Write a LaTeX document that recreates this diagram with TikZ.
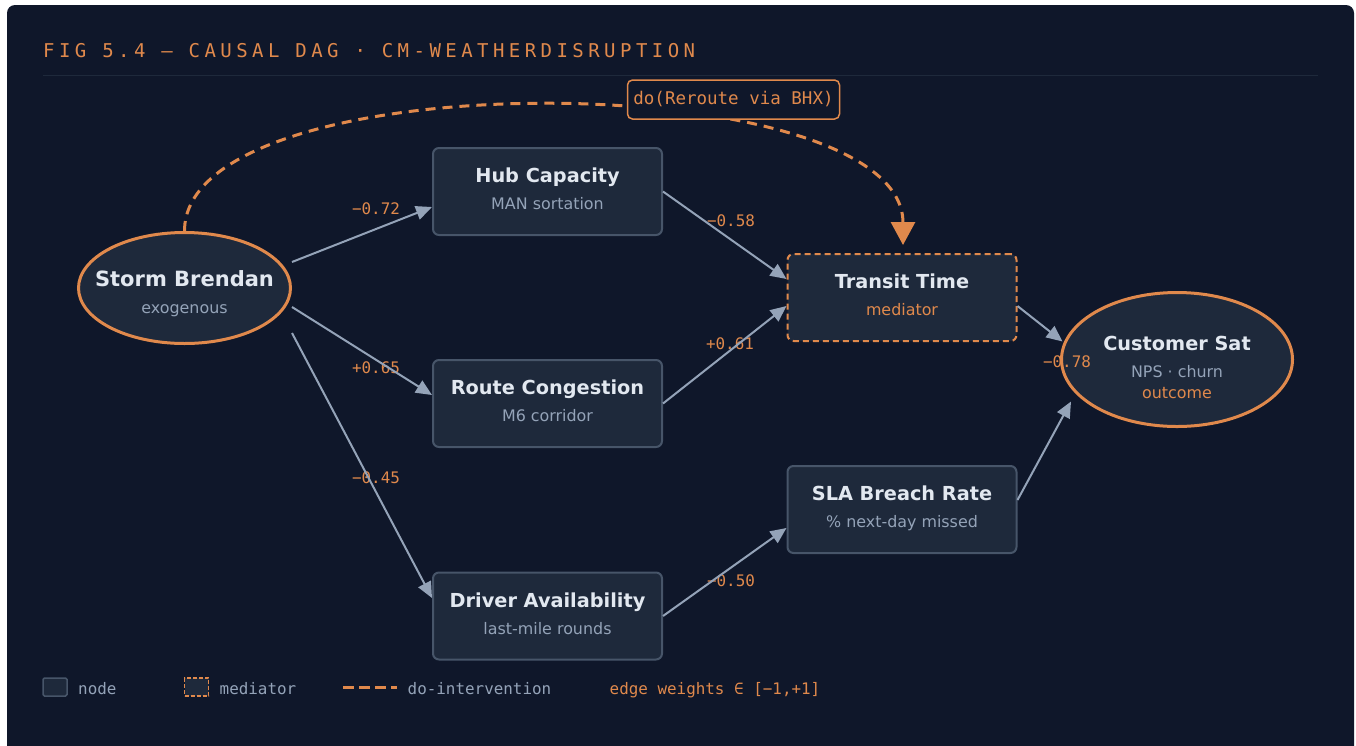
\documentclass[tikz,border=0pt]{standalone}
\usepackage{fontspec}
\setmainfont{DejaVu Sans}
\setmonofont{DejaVu Sans Mono}
\usetikzlibrary{arrows.meta,shapes.geometric,calc}

\definecolor{panelbg}{HTML}{0F172A}
\definecolor{nodefill}{HTML}{1E293B}
\definecolor{nodeline}{HTML}{475569}
\definecolor{edgegray}{HTML}{94A3B8}
\definecolor{accent}{HTML}{E0894C}
\definecolor{titlewhite}{HTML}{E2E8F0}
\definecolor{rulecol}{HTML}{1E293B}

\tikzset{
  boxnode/.style={rectangle, draw=nodeline, fill=nodefill, line width=2pt,
    rounded corners=6pt, minimum width=229pt, minimum height=87pt, inner sep=0pt},
  medbox/.style={boxnode, draw=accent, dash pattern=on 6pt off 4pt},
  ovalnode/.style={ellipse, draw=accent, fill=nodefill, line width=3pt, inner sep=0pt},
  headtext/.style={anchor=base, inner sep=0pt, text=titlewhite,
    font=\bfseries\fontsize{19.3}{23}\selectfont},
  subtext/.style={anchor=base, inner sep=0pt, text=edgegray,
    font=\fontsize{15.9}{19}\selectfont},
  accenttext/.style={subtext, text=accent},
  weight/.style={anchor=base, inner sep=0pt, text=accent,
    font=\ttfamily\fontsize{15.9}{18}\selectfont},
  edge/.style={draw=edgegray, line width=2pt, -{Triangle[length=16pt,width=14pt]}},
  dopath/.style={draw=accent, line width=3pt, dash pattern=on 10pt off 7pt,
    -{Triangle[length=23pt,width=24pt]}},
  legendtext/.style={anchor=base west, inner sep=0pt, text=edgegray,
    font=\ttfamily\fontsize{15.9}{18}\selectfont},
}

\begin{document}
\begin{tikzpicture}[x=1pt,y=-1pt]
\useasboundingbox (0,0) rectangle (1356,745);
\fill[white] (0,0) rectangle (1356,745);
\begin{scope}
  \clip (0,0) rectangle (1356,745);
  \fill[panelbg, rounded corners=8pt] (7,5) rectangle (1354,775);
\end{scope}

% heading and rule
\node[anchor=base west, inner sep=0pt, text=accent,
  font=\ttfamily\fontsize{19}{23}\selectfont\addfontfeature{LetterSpace=23.4}]
  (heading) at (43,57.5) {FIG 5.4 — CAUSAL DAG · CM-WEATHERDISRUPTION};
\draw[rulecol, line width=1.5pt] (43,75.5) -- (1318,75.5);

% nodes
\node[ovalnode, minimum width=212pt, minimum height=111pt] (storm) at (184.5,288) {};
\node[boxnode] (hub) at (547.5,191.5) {};
\node[boxnode] (route) at (547.5,403.5) {};
\node[boxnode] (driver) at (547.5,616) {};
\node[medbox] (transit) at (902,297.5) {};
\node[boxnode] (sla) at (902,509.5) {};
\node[ovalnode, minimum width=231pt, minimum height=134pt] (cust) at (1177,359.5) {};

% do-intervention arc
\coordinate (dotip) at ($(transit.north)+(1,-8)$);
\draw[dopath] (storm.north) .. controls +(0,-172) and +(0,-180) .. (dotip);
\node[draw=accent, fill=panelbg, line width=1.5pt, rounded corners=5pt,
  minimum width=212pt, minimum height=39pt, inner sep=0pt, text=accent,
  font=\ttfamily\fontsize{17.5}{21}\selectfont] (dolabel) at (733.5,99.5) {do(Reroute via BHX)};

% node texts
\node[headtext, font=\bfseries\fontsize{21}{25}\selectfont] (storm-h) at ($(storm)+(0,-2)$) {Storm Brendan};
\node[subtext] (storm-s) at ($(storm)+(0,25)$) {exogenous};
\node[headtext] (hub-h) at ($(hub)+(0,-9)$) {Hub Capacity};
\node[subtext] (hub-s) at ($(hub)+(0,18)$) {MAN sortation};
\node[headtext] (route-h) at ($(route)+(0,-9)$) {Route Congestion};
\node[subtext] (route-s) at ($(route)+(0,18)$) {M6 corridor};
\node[headtext] (driver-h) at ($(driver)+(0,-9)$) {Driver Availability};
\node[subtext] (driver-s) at ($(driver)+(0,18)$) {last-mile rounds};
\node[headtext] (transit-h) at ($(transit)+(0,-9)$) {Transit Time};
\node[accenttext] (transit-s) at ($(transit)+(0,18)$) {mediator};
\node[headtext] (sla-h) at ($(sla)+(0,-9)$) {SLA Breach Rate};
\node[subtext] (sla-s) at ($(sla)+(0,18)$) {\% next-day missed};
\node[headtext] (cust-h) at ($(cust)+(0,-9.5)$) {Customer Sat};
\node[subtext] (cust-s) at ($(cust)+(0,18)$) {NPS · churn};
\node[accenttext] (cust-o) at ($(cust)+(0,39)$) {outcome};

% edge weights
\node[weight] (w1) at (376,214) {−0.72};
\node[weight] (w2) at (376,373) {+0.65};
\node[weight] (w3) at (376,483) {−0.45};
\node[weight] (w4) at (731,226) {−0.58};
\node[weight] (w5) at (730,349.5) {+0.61};
\node[weight] (w6) at (731,586) {−0.50};
\node[weight] (w7) at (1067,367.5) {−0.78};

% causal edges
\draw[edge] ($(storm.east)+(0,-26)$) -- ($(hub.west)+(0,15.5)$);
\draw[edge] ($(storm.east)+(0,19)$) -- ($(route.west)+(0,-8.5)$);
\draw[edge] ($(storm.east)+(0,45)$) -- ($(driver.west)+(0,-18)$);
\draw[edge] (hub.east) -- ($(transit.west)+(0,-18.5)$);
\draw[edge] (route.east) -- ($(transit.west)+(0,8.5)$);
\draw[edge] (driver.east) -- ($(sla.west)+(0,18.5)$);
\draw[edge] ($(transit.east)+(0,8.5)$) -- ($(cust.west)+(2.5,-18)$);
\draw[edge] ($(sla.east)+(0,-9.5)$) -- ($(cust.west)+(11,42)$);

% legend
\node[rectangle, draw=nodeline, fill=nodefill, line width=1.5pt, rounded corners=1.5pt,
  minimum width=24pt, minimum height=18pt, inner sep=0pt] (lg-node) at (55,687) {};
\node[legendtext] (lg-node-t) at (78,694) {node};
\node[rectangle, draw=accent, fill=nodefill, line width=1.5pt, dash pattern=on 4pt off 2pt,
  minimum width=24pt, minimum height=18pt, inner sep=0pt] (lg-med) at (196.5,687) {};
\node[legendtext] (lg-med-t) at (219.5,694) {mediator};
\coordinate (lg-do-a) at (343,687);
\coordinate (lg-do-b) at (397,687);
\draw[accent, line width=3pt, dash pattern=on 11pt off 5pt] (lg-do-a) -- (lg-do-b);
\node[legendtext] (lg-do-t) at (407.5,694) {do-intervention};
\node[legendtext, text=accent] (lg-w) at (609.5,694) {edge weights ∈ [−1,+1]};
\end{tikzpicture}
\end{document}
